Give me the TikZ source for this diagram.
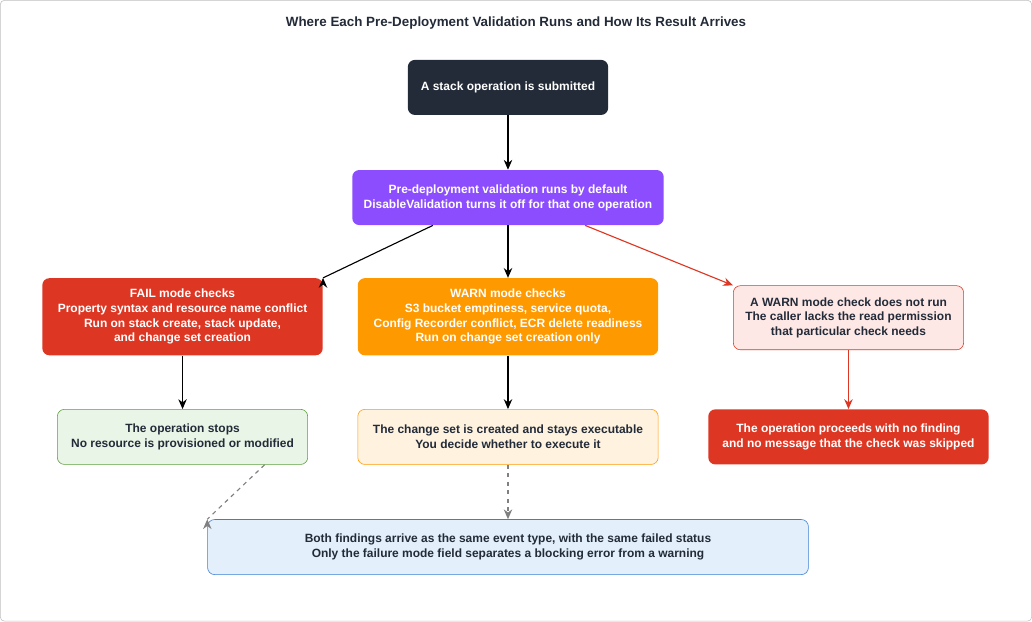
\documentclass[tikz,border=0pt]{standalone}
\usepackage{fontspec}
\setmainfont{Liberation Sans}
\usetikzlibrary{arrows.meta,positioning}
\definecolor{darkbox}{HTML}{232B39}
\definecolor{purplebox}{HTML}{8C4DFF}
\definecolor{failred}{HTML}{DD3724}
\definecolor{warnorange}{HTML}{FF9900}
\definecolor{palered}{HTML}{FDE8E6}
\definecolor{palegreen}{HTML}{E9F5E6}
\definecolor{greenline}{HTML}{5A9E3A}
\definecolor{paleorange}{HTML}{FFF3E0}
\definecolor{paleblue}{HTML}{E3F0FC}
\definecolor{blueline}{HTML}{3A7FD5}
\tikzset{
  box/.style={rectangle, rounded corners=5pt, align=center, font=\fontsize{8.5}{10.5}\selectfont\bfseries, inner sep=2pt},
  flow/.style={-{Stealth[length=7pt,width=6pt]}, thick},
  hint/.style={-{Stealth[length=7pt,width=6pt]}, thick, dashed, gray}
}
\begin{document}
\begin{tikzpicture}[x=0.025cm, y=-0.025cm]
  \draw[rounded corners=3pt, gray!50, fill=white] (1,1) rectangle (1031,621);
  \node (title) at (516,24) {\fontsize{9.5}{11}\selectfont\bfseries\color{darkbox}Where Each Pre-Deployment Validation Runs and How Its Result Arrives};
  % first row
  \node[box, fill=darkbox, text=white, minimum width=200*0.025cm, minimum height=55*0.025cm] (submit) at (508,88) {A stack operation is submitted};
  \node[box, fill=purplebox, text=white, minimum width=311*0.025cm, minimum height=55*0.025cm] (valid) at (508,198) {Pre-deployment validation runs by default\\DisableValidation turns it off for that one operation};
  % mode checks
  \node[box, fill=failred, text=white, minimum width=280*0.025cm, minimum height=77*0.025cm] (fail) at (183,317) {FAIL mode checks\\Property syntax and resource name conflict\\Run on stack create, stack update,\\and change set creation};
  \node[box, fill=warnorange, text=white, minimum width=300*0.025cm, minimum height=77*0.025cm] (warn) at (508,317) {WARN mode checks\\S3 bucket emptiness, service quota,\\Config Recorder conflict, ECR delete readiness\\Run on change set creation only};
  \node[box, draw=failred, fill=palered, text=darkbox, minimum width=230*0.025cm, minimum height=64*0.025cm] (skip) at (848,318) {A WARN mode check does not run\\The caller lacks the read permission\\that particular check needs};
  % outcomes
  \node[box, draw=greenline, fill=palegreen, text=darkbox, minimum width=250*0.025cm, minimum height=55*0.025cm] (stops) at (183,437) {The operation stops\\No resource is provisioned or modified};
  \node[box, draw=warnorange, fill=paleorange, text=darkbox, minimum width=300*0.025cm, minimum height=55*0.025cm] (created) at (508,437) {The change set is created and stays executable\\You decide whether to execute it};
  \node[box, fill=failred, text=white, minimum width=280*0.025cm, minimum height=55*0.025cm] (proceeds) at (848,437) {The operation proceeds with no finding\\and no message that the check was skipped};
  \node[box, draw=blueline, fill=paleblue, text=darkbox, minimum width=600*0.025cm, minimum height=55*0.025cm] (events) at (508,547) {Both findings arrive as the same event type, with the same failed status\\Only the failure mode field separates a blocking error from a warning};
  % connectors
  \draw[flow] (submit) -- (valid);
  \draw[flow] (valid.south) ++(-75,0) coordinate (vl) (vl) -- (fail.north east) ++(0,0);
  \draw[flow] (valid) -- (warn);
  \draw[flow, failred] (valid.south) ++(77,0) coordinate (vr) (vr) -- (skip.north west);
  \draw[flow] (fail) -- (stops);
  \draw[flow] (warn) -- (created);
  \draw[flow, failred] (skip) -- (proceeds);
  \draw[hint] (stops.south) ++(82,0) coordinate (sd) (sd) -- (events.north west) ++(0,0);
  \draw[hint] (created) -- (events);
\end{tikzpicture}
\end{document}
